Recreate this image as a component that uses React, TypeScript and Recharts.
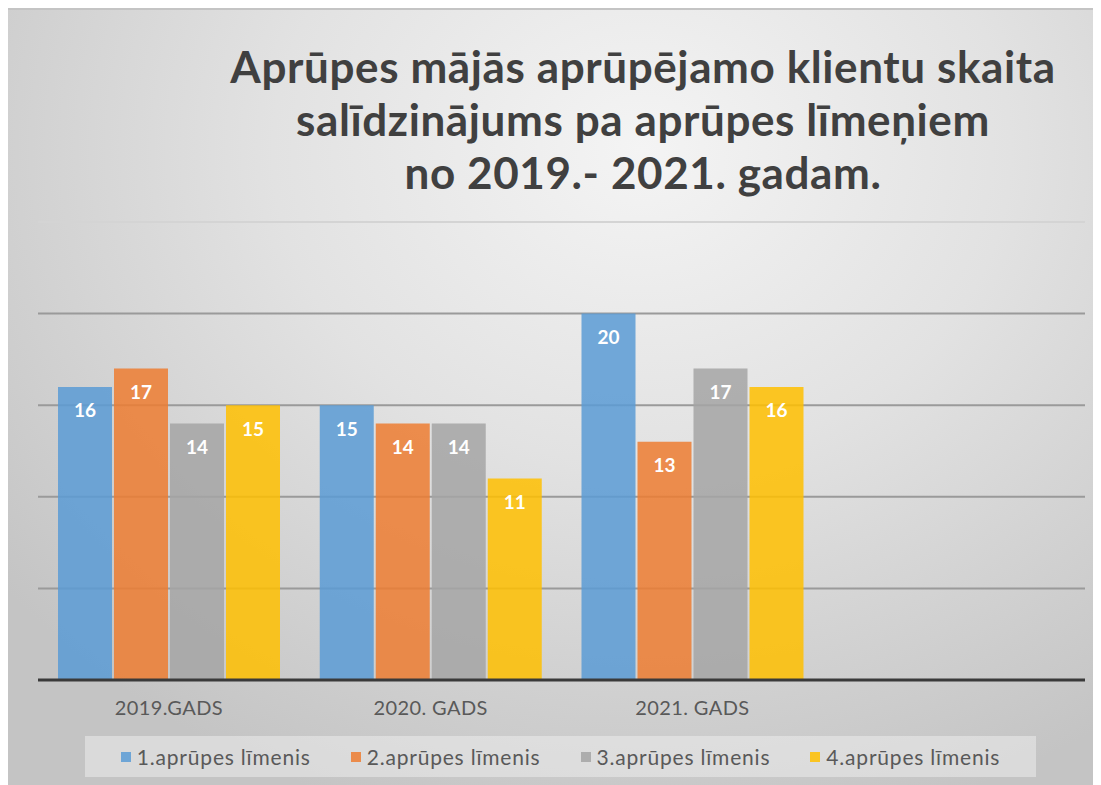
import React from 'react';
import { BarChart, Bar, XAxis, YAxis, CartesianGrid, LabelList } from 'recharts';

const categories = ['2019.GADS', '2020. GADS', '2021. GADS', ''];
const level1 = [16, 15, 20];
const level2 = [17, 14, 13];
const level3 = [14, 14, 17];
const level4 = [15, 11, 16];
const seriesNames = ['1.aprūpes līmenis', '2.aprūpes līmenis', '3.aprūpes līmenis', '4.aprūpes līmenis'];
const seriesColors = ['#5b9bd5', '#ed7d31', '#a5a5a5', '#ffc000'];
const yTicks = [0, 5, 10, 15, 20, 25];
const titleLines = ['Aprūpes mājās aprūpējamo klientu skaita', 'salīdzinājums pa aprūpes līmeņiem', 'no 2019.- 2021. gadam.'];

const FONT = 'Lato, "Open Sans", sans-serif';

const data = categories.map((name, i) => ({
  name,
  s1: level1[i],
  s2: level2[i],
  s3: level3[i],
  s4: level4[i],
}));

const seriesKeys = ['s1', 's2', 's3', 's4'];

function GridLine(props: any) {
  const { x1, x2, y1, y2 } = props;
  const top = y1 < 220;
  return (
    <line
      x1={x1}
      x2={x2}
      y1={y1}
      y2={y2}
      stroke={top ? '#d4d4d4' : '#9a9a9a'}
      strokeWidth={2}
    />
  );
}

export default function App() {
  return (
    <div
      style={{
        position: 'relative',
        width: 1093,
        height: 777,
        overflow: 'hidden',
        fontFamily: FONT,
        borderTop: '2px solid #c4c4c4',
        boxSizing: 'border-box',
        background:
          'radial-gradient(ellipse 75% 90% at 58% 18%, #f4f4f4 0%, #e2e2e2 45%, #cfcfcf 80%, #c4c4c4 100%)',
      }}
    >
      <BarChart
        width={1093}
        height={775}
        data={data}
        margin={{ top: 212, right: 16, left: 30, bottom: 65 }}
        barSize={54}
        barGap={2}
      >
        <CartesianGrid vertical={false} horizontal={(p: any) => <GridLine {...p} />} />
        <XAxis
          dataKey="name"
          height={40}
          axisLine={{ stroke: '#3a3a3a', strokeWidth: 3 }}
          tickLine={false}
          tickSize={0}
          tickMargin={21}
          tick={{ fill: '#595959', fontSize: 20, fontFamily: FONT, letterSpacing: 0.4 }}
          interval={0}
        />
        <YAxis hide domain={[0, 25]} ticks={yTicks} />
        {seriesKeys.map((k, i) => (
          <Bar
            key={k}
            dataKey={k}
            name={seriesNames[i]}
            fill={seriesColors[i]}
            fillOpacity={0.85}
            isAnimationActive={false}
          >
            <LabelList
              dataKey={k}
              position="insideTop"
              offset={17}
              fill="#ffffff"
              fontSize={19}
              fontWeight={700}
              fontFamily={FONT}
            />
          </Bar>
        ))}
      </BarChart>

      <div
        style={{
          position: 'absolute',
          left: 200,
          top: 30,
          width: 870,
          textAlign: 'center',
          fontSize: 44,
          letterSpacing: 0.6,
          lineHeight: '53px',
          fontWeight: 700,
          color: '#404040',
        }}
      >
        {titleLines.map((t) => (
          <div key={t}>{t}</div>
        ))}
      </div>

      <div
        style={{
          position: 'absolute',
          left: 77,
          top: 726,
          width: 951,
          height: 41,
          background: 'rgba(240,240,240,0.5)',
          display: 'flex',
          alignItems: 'center',
          justifyContent: 'center',
          gap: 40,
        }}
      >
        {seriesNames.map((n, i) => (
          <div
            key={n}
            style={{ display: 'flex', alignItems: 'center', color: '#595959', fontSize: 21, letterSpacing: 0.8 }}
          >
            <span
              style={{
                display: 'inline-block',
                width: 10,
                height: 10,
                background: seriesColors[i],
                opacity: 0.85,
                marginRight: 6,
              }}
            />
            {n}
          </div>
        ))}
      </div>
    </div>
  );
}
